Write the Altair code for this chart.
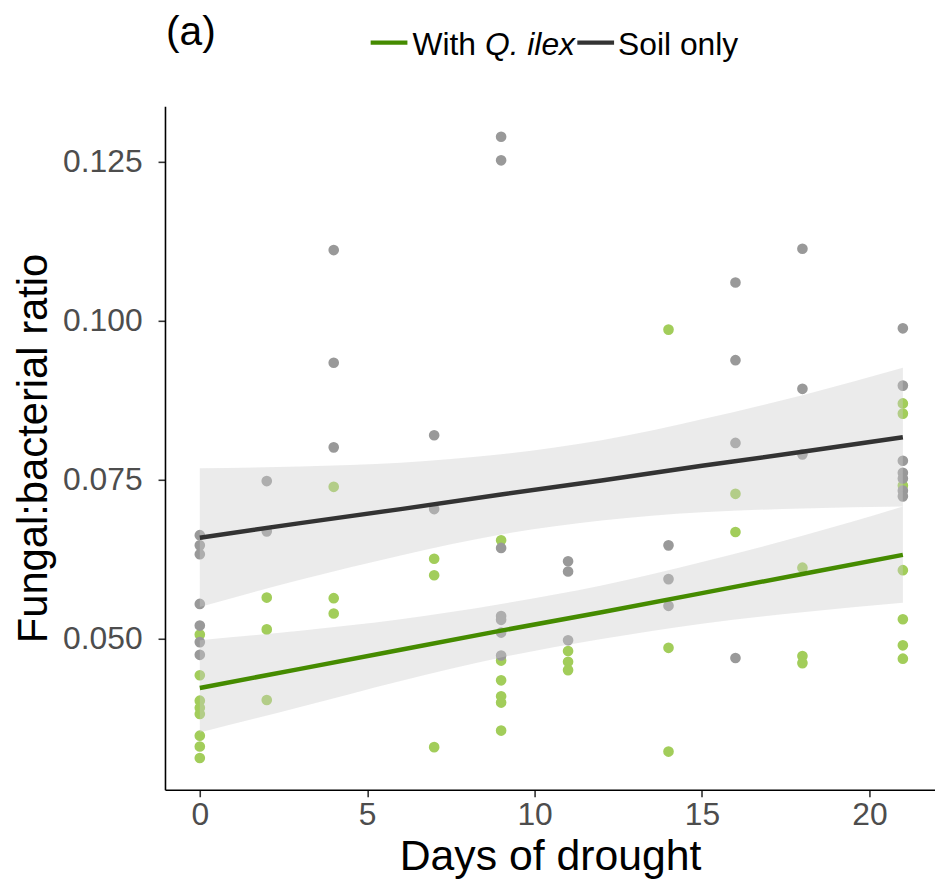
import altair as alt
import pandas as pd

# ---- observed points ----
soil_days = [0, 0, 0, 0, 0, 0, 0,
             2, 2,
             4, 4, 4,
             7, 7,
             9, 9, 9, 9, 9, 9, 9,
             11, 11, 11,
             14, 14, 14,
             16, 16, 16, 16,
             18, 18, 18,
             21, 21, 21, 21, 21, 21, 21]
soil_ratio = [0.0663, 0.0647, 0.0633, 0.0555, 0.0521, 0.0495, 0.0475,
              0.0748, 0.0669,
              0.1111, 0.0934, 0.0801,
              0.0820, 0.0704,
              0.1289, 0.1252, 0.0643, 0.0536, 0.0530, 0.0510, 0.0474,
              0.0622, 0.0606, 0.0498,
              0.0647, 0.0594, 0.0552,
              0.1060, 0.0938, 0.0808, 0.0470,
              0.1113, 0.0893, 0.0790,
              0.0988, 0.0898, 0.0780, 0.0761, 0.0752, 0.0733, 0.0724]

qilex_days = [0, 0, 0, 0, 0, 0, 0, 0,
              2, 2, 2,
              4, 4, 4,
              7, 7, 7,
              9, 9, 9, 9, 9, 9,
              11, 11, 11,
              14, 14, 14,
              16, 16,
              18, 18, 18,
              21, 21, 21, 21, 21, 21, 21]
qilex_ratio = [0.0507, 0.0443, 0.0403, 0.0392, 0.0382, 0.0348, 0.0331, 0.0313,
               0.0565, 0.0515, 0.0404,
               0.0739, 0.0564, 0.0540,
               0.0626, 0.0600, 0.0330,
               0.0655, 0.0466, 0.0435, 0.0410, 0.0400, 0.0356,
               0.0481, 0.0464, 0.0451,
               0.0986, 0.0486, 0.0323,
               0.0728, 0.0668,
               0.0612, 0.0473, 0.0462,
               0.0870, 0.0854, 0.0741, 0.0608, 0.0531, 0.0490, 0.0469]

# ---- fitted lines and confidence bands ----
fit_days = [0, 3, 6, 9, 12, 15, 18, 21]
soil_fit = [0.0659, 0.0682, 0.0704, 0.0727, 0.0749, 0.0772, 0.0794, 0.0817]
soil_upper = [0.0768, 0.0771, 0.0777, 0.0790, 0.0812, 0.0845, 0.0883, 0.0926]
soil_lower = [0.0550, 0.0593, 0.0631, 0.0664, 0.0686, 0.0699, 0.0705, 0.0708]
qilex_fit = [0.0423, 0.0453, 0.0483, 0.0513, 0.0542, 0.0572, 0.0602, 0.0632]
qilex_upper = [0.0498, 0.0513, 0.0531, 0.0555, 0.0584, 0.0621, 0.0662, 0.0708]
qilex_lower = [0.0353, 0.0393, 0.0434, 0.0471, 0.0500, 0.0524, 0.0542, 0.0557]

groups = ["With Q. ilex", "Soil only"]
point_colors = ["#A2CD5A", "#999999"]
line_colors = ["#458B00", "#333333"]
x_ticks = [0, 5, 10, 15, 20]
y_ticks = [0.050, 0.075, 0.100, 0.125]

pts = pd.DataFrame({
    "day": qilex_days + soil_days,
    "ratio": qilex_ratio + soil_ratio,
    "group": [groups[0]] * len(qilex_days) + [groups[1]] * len(soil_days),
})
fits = pd.DataFrame({
    "day": fit_days + fit_days,
    "fit": qilex_fit + soil_fit,
    "lower": qilex_lower + soil_lower,
    "upper": qilex_upper + soil_upper,
    "series": [groups[0]] * len(fit_days) + [groups[1]] * len(fit_days),
})

xscale = alt.Scale(domain=[-1.04, 21.96], nice=False, zero=False)
yscale = alt.Scale(domain=[0.0263, 0.1337], nice=False, zero=False)
xaxis = alt.Axis(values=x_ticks, labelPadding=3, titlePadding=5)
yaxis = alt.Axis(values=y_ticks, format=".3f", labelPadding=16, titlePadding=7, titleFontSize=42)
XT = "Days of drought"
YT = "Fungal:bacterial ratio"

points = alt.Chart(pts).mark_circle(size=115, opacity=1).encode(
    x=alt.X("day:Q", scale=xscale, axis=xaxis, title=XT),
    y=alt.Y("ratio:Q", scale=yscale, axis=yaxis, title=YT),
    color=alt.Color("group:N", scale=alt.Scale(domain=groups, range=point_colors), legend=None),
)

band = alt.Chart(fits).mark_area(color="#cccccc", opacity=0.4, interpolate="monotone").encode(
    x=alt.X("day:Q", scale=xscale, axis=xaxis, title=XT),
    y=alt.Y("lower:Q", scale=yscale, axis=yaxis, title=YT),
    y2="upper:Q",
    detail="series:N",
)

lines = alt.Chart(fits).mark_line(strokeWidth=4.5).encode(
    x=alt.X("day:Q", scale=xscale, axis=xaxis, title=XT),
    y=alt.Y("fit:Q", scale=yscale, axis=yaxis, title=YT),
    stroke=alt.Stroke("series:N", scale=alt.Scale(domain=groups, range=line_colors), legend=None),
)

# ---- panel tag and manual legend (allows the italic species name) ----
tag = alt.Chart().mark_text(text="(a)", align="left", baseline="alphabetic", fontSize=41,
                            font="Liberation Sans", color="black").encode(
    x=alt.value(1), y=alt.value(-62))
leg_line1 = alt.Chart().mark_rule(color=line_colors[0], strokeWidth=4.5).encode(
    x=alt.value(207), x2=alt.value(244), y=alt.value(-64))
leg_t1a = alt.Chart().mark_text(text="With", align="left", baseline="alphabetic", fontSize=32,
                                font="Liberation Sans", color="black").encode(
    x=alt.value(249), y=alt.value(-52))
leg_t1b = alt.Chart().mark_text(text="Q. ilex", align="left", baseline="alphabetic", fontSize=32,
                                fontStyle="italic", font="Liberation Sans", color="black").encode(
    x=alt.value(322), y=alt.value(-52))
leg_line2 = alt.Chart().mark_rule(color=line_colors[1], strokeWidth=4.5).encode(
    x=alt.value(415), x2=alt.value(452), y=alt.value(-64))
leg_t2 = alt.Chart().mark_text(text="Soil only", align="left", baseline="alphabetic", fontSize=32,
                               font="Liberation Sans", color="black").encode(
    x=alt.value(456), y=alt.value(-52))

chart = alt.layer(points, band, lines, tag, leg_line1, leg_t1a, leg_t1b, leg_line2, leg_t2).properties(
    width=775,
    height=688,
    autosize=alt.AutoSizeParams(type="none"),
    padding={"left": 158, "top": 96, "right": 0, "bottom": 94},
    background="white",
).resolve_scale(color="independent", stroke="independent").configure_axis(
    domainColor="black", domainWidth=1.6,
    tickColor="#333333", tickWidth=1.6, tickSize=7,
    labelFont="Liberation Sans", labelFontSize=32, labelColor="#4d4d4d",
    titleFont="Liberation Sans", titleFontSize=43, titleFontWeight="normal", titleColor="black",
    grid=False,
).configure_view(stroke="transparent")

chart.save("out.html", embed_options={"renderer": "svg", "actions": False})
